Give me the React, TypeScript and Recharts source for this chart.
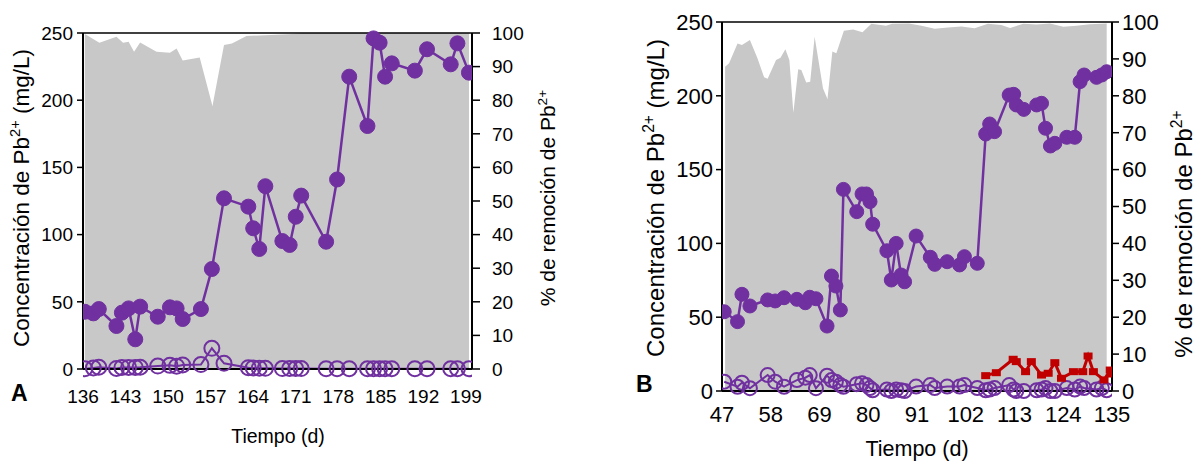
import { ComposedChart, Line, Area, XAxis, YAxis, ReferenceLine } from 'recharts'

const PURPLE = '#7030A0'
const GREY = '#C8C8C8'
const RED = '#C00000'

// ---- Panel A ----
const daysA = [136.3, 137.7, 138.6, 141.5, 142.4, 143.5, 144.6, 145.4, 148.3, 150.3, 151.4, 152.4, 155.4, 157.2, 159.2, 163.2, 164, 165, 166, 168.8, 170, 171, 171.9, 176, 177.8, 179.8, 182.8, 183.8, 184.8, 185.7, 186.8, 190.6, 192.6, 196.5, 197.6, 199.5]
const influentA = [42.6, 41.4, 44.6, 32, 41.9, 45.1, 22.1, 46.4, 38.9, 45.9, 45.1, 37.2, 44.6, 74.4, 127, 120.8, 104.7, 89.3, 136, 95.2, 92.3, 113.3, 129, 94.7, 141, 217.5, 180.8, 246, 242.8, 217.5, 227.4, 222, 237.9, 226.7, 242.3, 220.5]
const effluentA = [0.2, 0.8, 1.3, 0.4, 1.2, 1.2, 1.2, 1.3, 2.2, 2.7, 2.1, 3, 3.3, 15.4, 4.2, 1, 0.8, 0.6, 0.5, 0.3, 0.3, 0.3, 0.3, 0.2, 0.2, 0.2, 0.2, 0.2, 0.2, 0.2, 0.2, 0.2, 0.2, 0.2, 0.2, 0.2]
const remDaysA = [136.3, 138.7, 141.5, 142.6, 143.5, 144.4, 145.4, 148.1, 150.3, 151.4, 152.4, 155.2, 157.3, 159.2, 160.5, 162.9, 170.5, 172, 199.5]
const removalA = [99.7, 97.1, 98.9, 97.1, 97.4, 94.4, 97.2, 94.4, 94.1, 95.4, 91.8, 92.7, 78.3, 96.4, 96.9, 99.1, 99.7, 100, 100]
const ticksA = [136, 143, 150, 157, 164, 171, 178, 185, 192, 199]

// ---- Panel B ----
const daysB = [47.5, 50.5, 51.5, 53.3, 57.3, 59, 61, 63.9, 65.8, 66.8, 68.2, 70.7, 71.7, 72.7, 73.7, 74.4, 77.4, 78.6, 79.6, 80.4, 81, 84.2, 85.2, 86.3, 87.4, 88.2, 90.8, 94, 95, 97.8, 100.6, 101.7, 104.6, 106.5, 107.4, 108.5, 111.8, 112.8, 113.4, 115.1, 118, 119.1, 120, 121.1, 122.1, 124.8, 126.6, 127.8, 128.7, 131.5, 132.7, 133.8]
const influentB = [53.7, 47, 65.5, 57.6, 61.7, 61, 63.2, 62.1, 59.8, 63.5, 62.5, 44, 77.9, 71.1, 54.9, 136.6, 121.5, 133.5, 133.5, 128.3, 113, 95, 75.2, 100, 78.6, 74, 105, 90.6, 85.8, 87.6, 85.4, 91, 86.5, 174.1, 180.9, 175.7, 200.5, 201, 193.8, 190.8, 193.8, 194.9, 178, 166, 167.8, 171.9, 171.9, 209.6, 214.1, 212.5, 214.1, 216.3]
const effluentB = [6.3, 2.9, 5.6, 1.9, 10.8, 6.3, 2.9, 7.4, 9, 10.8, 1.9, 10.4, 7.4, 6.3, 4, 2.9, 4.6, 5.2, 4, 2, 0.5, 1, 0, 1, 0.5, 0, 3, 4, 2, 3, 3, 4, 2, 0.5, 1, 2, 4, 1, 0, 0, 0.5, 1, 2, 0, 0, 2, 1, 3, 2, 1, 2, 0.5]
const remDaysB = [47.7, 48.6, 50.5, 51.5, 53.3, 55, 56.5, 57.3, 59.2, 60.2, 61.3, 62.2, 63.1, 64.2, 64.9, 66, 66.9, 67.9, 69.8, 70.8, 71.9, 72.8, 74.5, 76.6, 78.7, 80.7, 84, 85.4, 89.2, 92, 95, 98, 101, 104, 107, 110, 112, 115, 118, 121, 124, 127, 130, 133.8]
const removalB = [87.9, 88.8, 94.2, 93.8, 95.1, 90.2, 85, 84.6, 89.7, 90.3, 92.6, 89.7, 75.4, 87.2, 87, 83.6, 83.8, 96, 82, 79.1, 92, 91.5, 97.6, 98, 97.2, 99.5, 99, 99.5, 99.6, 99, 98.2, 98.5, 98.8, 98.3, 99.5, 99.2, 98.4, 99.5, 99.3, 99.6, 98.7, 99, 99.4, 99.6]
const redDaysB = [106.5, 108.9, 112.7, 113.4, 115.5, 116.8, 119.1, 120.6, 122.1, 123.6, 126.3, 128.4, 129.6, 130.8, 133.2, 134.6, 135]
const redB = [10.4, 12.4, 21.5, 19.9, 13.1, 19.9, 10.8, 12, 19.2, 8.6, 13.1, 13.1, 23.7, 13.1, 7.5, 14.2, 11.5]
const ticksB = [47, 58, 69, 80, 91, 102, 113, 124, 135]

const concTicks = [0, 50, 100, 150, 200, 250]
const pctTicks = [0, 10, 20, 30, 40, 50, 60, 70, 80, 90, 100]

const rows = (xs: number[], ys: number[]) => xs.map((d, i) => ({ d, v: ys[i] }))

const SquareDot = (p: any) => (
    <rect key={`sq-${p.index}`} x={p.cx - 4.5} y={p.cy - 3.5} width={9} height={7} fill={RED} />
)

interface PanelProps {
    width: number
    margin: { top: number, right: number, bottom: number, left: number }
    axisWidth: number
    xDomain: [number, number]
    xTicks: number[]
    font: number
    inf: { d: number, v: number }[]
    eff: { d: number, v: number }[]
    rem: { d: number, v: number }[]
    red?: { d: number, v: number }[]
    r: number
    xTickMargin: number
    leftTick: [number, number]
    rightTick: [number, number]
}

function Panel({ width, margin, axisWidth, xDomain, xTicks, font, inf, eff, rem, red, r, xTickMargin, leftTick, rightTick }: PanelProps) {
    const tickStyle = { fontSize: font, fill: '#000' }
    const axisLine = { stroke: '#000', strokeWidth: 2 }
    return (
        <ComposedChart width={width} height={461} margin={margin}>
            <XAxis type="number" dataKey="d" domain={xDomain} ticks={xTicks} allowDataOverflow
                tick={tickStyle} tickLine={false} tickSize={0} tickMargin={xTickMargin}
                axisLine={axisLine} height={40} interval={0} />
            <YAxis yAxisId="c" domain={[0, 250]} ticks={concTicks} width={axisWidth}
                tick={tickStyle} tickSize={leftTick[0]} tickMargin={leftTick[1]}
                tickLine={{ stroke: '#000', strokeWidth: 1.5 }} axisLine={axisLine} interval={0} />
            <YAxis yAxisId="p" orientation="right" domain={[0, 100]} ticks={pctTicks} width={axisWidth}
                tick={tickStyle} tickSize={rightTick[0]} tickMargin={rightTick[1]}
                tickLine={{ stroke: '#000', strokeWidth: 1.5 }} axisLine={axisLine} interval={0} />
            <Area yAxisId="p" data={rem} dataKey="v" type="linear" fill={GREY} fillOpacity={1}
                stroke="none" isAnimationActive={false} />
            <ReferenceLine yAxisId="c" y={250} stroke="#000" strokeWidth={1.5} />
            <Line yAxisId="c" data={eff} dataKey="v" type="linear" stroke={PURPLE} strokeWidth={2}
                dot={{ r, fill: 'none', stroke: PURPLE, strokeWidth: 2 }} isAnimationActive={false} />
            {red && (
                <Line yAxisId="c" data={red} dataKey="v" type="linear" stroke={RED} strokeWidth={3}
                    dot={SquareDot} isAnimationActive={false} />
            )}
            <Line yAxisId="c" data={inf} dataKey="v" type="linear" stroke={PURPLE} strokeWidth={2.5}
                dot={{ r, fill: PURPLE, stroke: PURPLE, strokeWidth: 1 }} isAnimationActive={false} />
        </ComposedChart>
    )
}

function Title({ x, y, size, main, after }: { x: number, y: number, size: number, main: string, after?: string }) {
    return (
        <text transform={`translate(${x},${y}) rotate(-90)`} textAnchor="middle" style={{ fontSize: size }} fill="#000">
            {main}
            <tspan dy={-size * 0.4} style={{ fontSize: size * 0.65 }}>2+</tspan>
            {after && <tspan dy={size * 0.4} style={{ fontSize: size }}>{after}</tspan>}
        </text>
    )
}

export default function App() {
    return (
        <div style={{ position: 'absolute', left: 0, top: 0, width: 1196, height: 461, background: '#fff', fontFamily: '"Liberation Sans", Arial, sans-serif' }}>
            <div style={{ position: 'absolute', left: 0, top: 0 }}>
                <Panel width={600} margin={{ top: 33, right: 68, bottom: 52, left: 23 }} axisWidth={60}
                    xDomain={[136, 200]} xTicks={ticksA} font={19}
                    inf={rows(daysA, influentA)} eff={rows(daysA, effluentA)} rem={rows(remDaysA, removalA)}
                    r={7.5} xTickMargin={21} leftTick={[6, 4]} rightTick={[8, 12]} />
            </div>
            <div style={{ position: 'absolute', left: 600, top: 0 }}>
                <Panel width={596} margin={{ top: 22, right: 14, bottom: 30, left: 52 }} axisWidth={70}
                    xDomain={[47, 135]} xTicks={ticksB} font={22}
                    inf={rows(daysB, influentB)} eff={rows(daysB, effluentB)} rem={rows(remDaysB, removalB)}
                    red={rows(redDaysB, redB)}
                    r={7} xTickMargin={15} leftTick={[6, 3]} rightTick={[7, 3]} />
            </div>
            <svg width={1196} height={461} style={{ position: 'absolute', left: 0, top: 0, pointerEvents: 'none' }}>
                <Title x={29} y={198} size={22.5} main="Concentración de Pb" after=" (mg/L)" />
                <Title x={555} y={198} size={21} main="% de remoción de Pb" />
                <Title x={664} y={198} size={24} main="Concentración de Pb" after=" (mg/L)" />
                <Title x={1192} y={234} size={24} main="% de remoción de Pb" />
                <text x={278} y={443} textAnchor="middle" style={{ fontSize: 19.5 }}>Tiempo (d)</text>
                <text x={917} y={456} textAnchor="middle" style={{ fontSize: 21.5 }}>Tiempo (d)</text>
                <text x={11} y={401} style={{ fontSize: 23, fontWeight: 'bold' }}>A</text>
                <text x={636} y={392} style={{ fontSize: 23, fontWeight: 'bold' }}>B</text>
            </svg>
        </div>
    )
}
